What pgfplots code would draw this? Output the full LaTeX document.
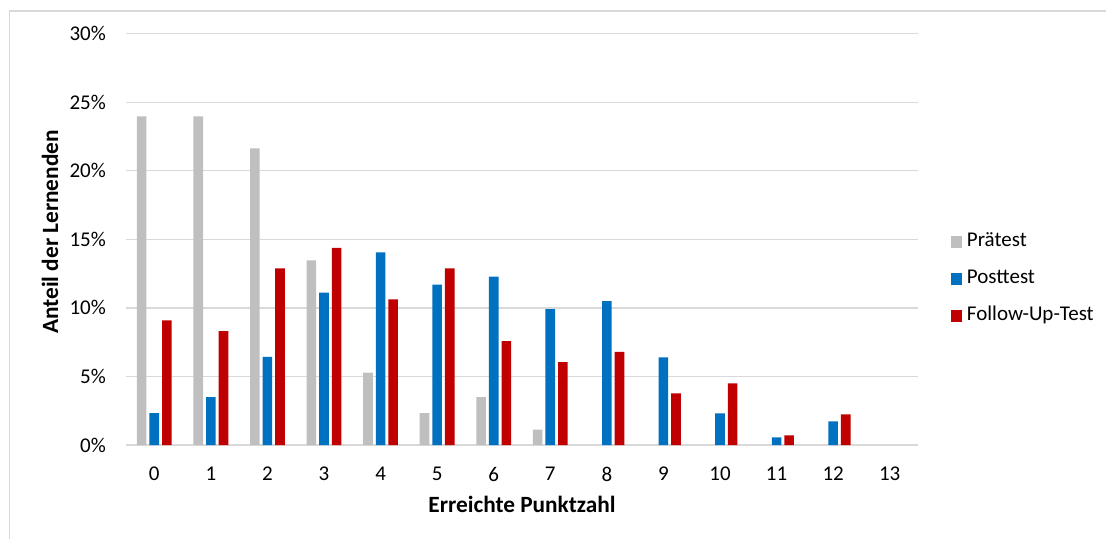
\documentclass[border=0pt]{standalone}
\usepackage{fontspec}
\setmainfont{Carlito}
\usepackage{pgfplots}
\pgfplotsset{compat=1.18}

\definecolor{praegray}{HTML}{BFBFBF}
\definecolor{postblue}{HTML}{0070C0}
\definecolor{followred}{HTML}{C00000}
\definecolor{gridgray}{HTML}{D9D9D9}

\begin{document}
\begin{tikzpicture}
\useasboundingbox (0,0) rectangle (1106pt,539pt);
% chart frame (top and left edges)
\draw[gridgray, line width=1.2pt] (9.5pt,0pt) -- (9.5pt,528pt) -- (1106pt,528pt);
\begin{axis}[
  at={(126pt,94pt)}, anchor=south west,
  scale only axis,
  width=792pt, height=411.3pt,
  ybar=3pt, bar width=9.6pt,
  xmin=-0.5, xmax=13.5,
  ymin=0, ymax=30,
  enlargelimits=false,
  xtick={0,...,13},
  ytick={0,5,...,30},
  yticklabel={\pgfmathprintnumber{\tick}\%},
  /pgf/number format/assume math mode=true,
  axis line style={draw=none},
  major tick length=0pt,
  ymajorgrids,
  grid style={gridgray, line width=1.3pt},
  ticklabel style={font=\fontsize{21}{25}\selectfont, inner sep=0pt},
  yticklabel style={anchor=east, xshift=-20pt},
  xticklabel style={anchor=north, yshift=-22pt},
  xlabel={Erreichte Punktzahl},
  ylabel={Anteil der Lernenden},
  label style={font=\fontsize{23.3}{28}\selectfont\bfseries, inner sep=0pt},
  xlabel style={at={(axis description cs:0.5,0)}, anchor=north, yshift=-51pt},
  ylabel style={at={(axis description cs:-0.096,0.518)}, anchor=center},
  legend style={
    at={(axis description cs:1.041,0.404)}, anchor=west,
    draw=none, fill=none, inner sep=0pt,
    font=\fontsize{21}{25}\selectfont,
    nodes={inner sep=0pt, text height=14pt, text depth=4pt},
    row sep=19pt,
    /tikz/every odd column/.append style={column sep=4.7pt},
  },
  legend cell align=left,
  legend image code/.code={
    \fill[#1] (0pt,-5.8pt) rectangle (11.6pt,5.8pt);
  },
]
\addplot[fill=praegray, draw=none] coordinates {
  (0,23.97) (1,23.97) (2,21.64) (3,13.47) (4,5.28) (5,2.33) (6,3.50) (7,1.12)
};
\addplot[fill=postblue, draw=none] coordinates {
  (0,2.33) (1,3.50) (2,6.42) (3,11.11) (4,14.05) (5,11.69) (6,12.28)
  (7,9.91) (8,10.49) (9,6.40) (10,2.31) (11,0.56) (12,1.73)
};
\addplot[fill=followred, draw=none] coordinates {
  (0,9.09) (1,8.31) (2,12.89) (3,14.37) (4,10.62) (5,12.89) (6,7.57)
  (7,6.04) (8,6.79) (9,3.77) (10,4.50) (11,0.71) (12,2.24)
};
\legend{Prätest, Posttest, Follow-Up-Test}
\end{axis}
\end{tikzpicture}
\end{document}
